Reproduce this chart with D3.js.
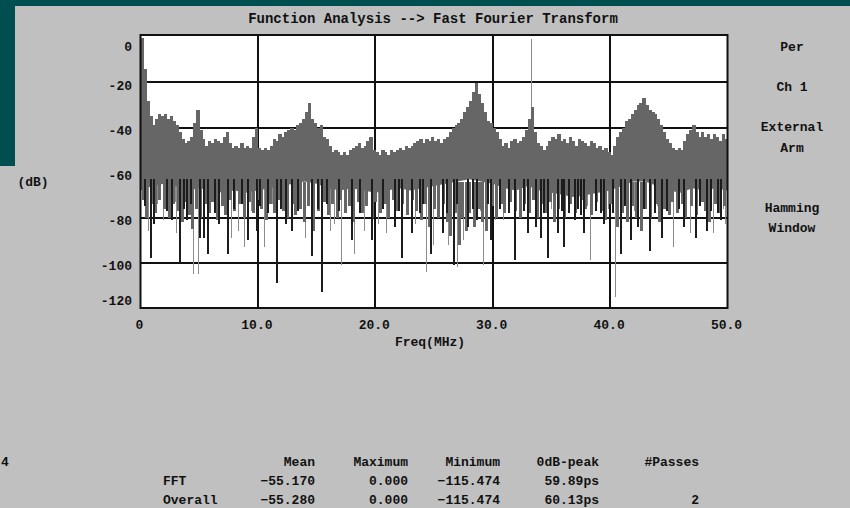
<!DOCTYPE html>
<html>
<head>
<meta charset="utf-8">
<script src="https://cdn.jsdelivr.net/npm/d3@7"></script>
<style>
  html, body { margin: 0; padding: 0; background: #c0c0c0; }
  svg text { font-family: "Liberation Mono", "DejaVu Sans Mono", monospace; font-weight: bold; fill: #111; }
</style>
</head>
<body>
<svg id="chart" width="850" height="508"></svg>
<script>
// spectrum values (dB), one per 0.25 MHz bin, top of the trace
const binStep = 0.25;
const traceTop = [
  0,-14,-28,-35,-39,-36,-34,-35,-34,-36,-35,-37,-39,-42,-45,-47,-46,-44,-38,-32,
  -41,-45,-48,-46,-47,-45,-46,-47,-44,-42,-47,-49,-48,-49,-47,-49,-48,-49,-44,-40,
  -49,-50,-49,-50,-48,-45,-46,-43,-44,-42,-41,-40,-41,-39,-38,-36,-33,-29,-36,-38,
  -40,-39,-44,-45,-48,-51,-50,-51,-52,-51,-52,-50,-49,-48,-47,-49,-48,-46,-44,-50,
  -51,-52,-50,-51,-52,-50,-51,-50,-49,-50,-48,-49,-48,-47,-46,-45,-47,-45,-46,-44,
  -46,-45,-47,-45,-44,-42,-40,-39,-38,-36,-33,-31,-28,-24,-20,-25,-29,-33,-37,-38,
  -40,-42,-45,-48,-47,-49,-46,-45,-47,-46,-44,-41,-36,-31,-42,-47,-48,-50,-48,-46,
  -44,-45,-43,-46,-45,-47,-44,-46,-48,-45,-46,-47,-48,-46,-47,-49,-48,-50,-49,-51,
  -52,-48,-44,-42,-40,-37,-36,-34,-32,-30,-29,-27,-30,-32,-33,-34,-36,-39,-42,-45,
  -47,-49,-50,-49,-50,-46,-43,-41,-39,-42,-44,-42,-44,-43,-45,-43,-44,-46,-43,-45,
  -29
];

// lower edge of the solid band, one per 1 MHz
const bandFreq = d3.range(0, 51);
const bandLow = [
  -68,-66,-65,-66,-68,-67,-68,-69,-68,-69,-68,-67,-66,-65,-64,-65,-67,-68,-67,-68,
  -69,-68,-67,-68,-67,-66,-65,-64,-63,-64,-65,-67,-68,-66,-68,-69,-70,-71,-70,-69,
  -68,-66,-64,-64,-66,-68,-69,-67,-68,-67,-68
];

// ragged fringe of the band below the solid part: [MHz, dB]
const fringe = [
  [0.2,-72],[0.5,-80],[0.9,-74],[1.2,-78],[1.6,-72],[2.0,-76],[2.4,-80],[2.8,-74],[3.2,-77],[3.5,-82],
  [3.8,-73],[4.1,-79],[4.4,-85],[4.7,-76],[5.1,-80],[5.5,-74],[5.8,-78],[6.1,-73],[6.5,-81],[6.9,-75],
  [7.2,-79],[7.6,-72],[8.0,-77],[8.4,-74],[8.8,-80],[9.2,-73],[9.6,-78],[10.0,-72],[10.3,-76],[10.7,-81],
  [11.0,-74],[11.4,-78],[11.8,-72],[12.1,-77],[12.5,-80],[12.9,-74],[13.2,-79],[13.6,-76],[13.9,-82],[14.3,-75],
  [14.7,-86],[15.1,-77],[15.6,-73],[16.0,-79],[16.3,-74],[16.7,-80],[17.0,-72],[17.4,-78],[17.8,-75],[18.1,-82],
  [18.5,-73],[18.9,-78],[19.2,-75],[19.7,-80],[20.0,-73],[20.4,-78],[20.8,-74],[21.1,-80],[21.5,-72],[21.8,-77],
  [22.3,-74],[22.7,-79],[23.1,-72],[23.5,-77],[23.9,-81],[24.2,-74],[24.6,-84],[25.0,-76],[25.3,-80],[25.8,-74],
  [26.1,-82],[26.4,-88],[26.8,-78],[27.1,-92],[27.4,-80],[27.7,-86],[28.0,-78],[28.4,-84],[28.8,-76],[29.1,-82],
  [29.4,-86],[29.9,-75],[30.3,-80],[30.7,-74],[31.0,-78],[31.5,-73],[31.9,-77],[32.3,-80],[32.7,-74],[33.1,-78],
  [33.4,-72],[33.8,-80],[34.1,-74],[34.5,-78],[34.9,-73],[35.2,-82],[35.6,-76],[36.1,-80],[36.6,-74],[37.0,-78],
  [37.5,-72],[37.9,-76],[38.4,-79],[38.8,-73],[39.2,-77],[39.6,-81],[40.0,-74],[40.6,-84],[41.0,-78],[41.4,-82],
  [41.9,-75],[42.2,-80],[42.6,-86],[43.0,-76],[43.4,-80],[43.9,-74],[44.2,-82],[44.6,-76],[45.0,-79],[45.3,-73],
  [45.7,-78],[46.1,-74],[46.4,-80],[46.9,-75],[47.3,-79],[47.8,-73],[48.1,-77],[48.4,-82],[48.9,-74],[49.3,-78],
  [49.7,-75]
];

// downward spikes: [MHz, dB, d = dark / g = grey]
const spikes = [
  [0.64,-86,"g"],[0.78,-98,"d"],[1.06,-83,"d"],[1.9,-81,"g"],[2.6,-81,"d"],[3.05,-87,"g"],
  [3.3,-100,"d"],[3.9,-81,"d"],[4.46,-105,"g"],[4.9,-105,"g"],[5.0,-89,"d"],[5.3,-89,"d"],
  [5.7,-96,"d"],[6.6,-83,"d"],[7.4,-96,"d"],[7.7,-89,"g"],[8.3,-86,"g"],[8.85,-93,"g"],
  [9.1,-90,"d"],[9.8,-86,"d"],[10.5,-93,"g"],[11.5,-109,"d"],[12.3,-83,"d"],[12.8,-86,"d"],
  [14.0,-89,"g"],[14.5,-97,"d"],[15.4,-113,"d"],[16.1,-86,"g"],[16.5,-83,"g"],[17.1,-101,"g"],
  [17.9,-90,"d"],[18.2,-96,"g"],[19.05,-86,"g"],[19.6,-90,"d"],[20.2,-83,"g"],[20.9,-87,"g"],
  [21.6,-84,"d"],[22.2,-98,"d"],[23.0,-87,"d"],[23.4,-83,"g"],[24.3,-104,"g"],[24.7,-96,"d"],
  [24.95,-92,"g"],[25.65,-87,"d"],[26.2,-92,"g"],[26.6,-101,"d"],[27.0,-102,"g"],[27.5,-90,"g"],
  [27.8,-84,"d"],[28.6,-81,"d"],[29.2,-101,"g"],[29.8,-90,"d"],[30.2,-81,"g"],[30.9,-81,"g"],
  [31.8,-99,"d"],[32.9,-87,"d"],[33.6,-84,"d"],[34.0,-89,"d"],[34.6,-98,"d"],[35.45,-87,"d"],
  [36.0,-93,"d"],[36.9,-81,"d"],[37.7,-87,"d"],[38.3,-99,"g"],[39.4,-83,"d"],[40.4,-115.5,"g"],
  [40.85,-96,"d"],[41.7,-90,"d"],[42.3,-84,"d"],[43.3,-95,"d"],[44.3,-89,"d"],[45.4,-93,"g"],
  [46.25,-84,"d"],[46.8,-87,"g"],[47.2,-89,"d"],[48.2,-86,"d"],[48.8,-87,"g"],[49.4,-81,"d"],
  [49.8,-83,"g"],
  [0.3,-75,"d"],[1.4,-74,"g"],[2.2,-77,"d"],[2.9,-73,"g"],[3.6,-76,"d"],[4.2,-74,"d"],
  [5.9,-75,"g"],[6.3,-78,"d"],[7.0,-73,"g"],[7.9,-76,"d"],[8.6,-74,"d"],[9.4,-77,"g"],
  [10.1,-75,"d"],[10.8,-78,"d"],[11.2,-74,"g"],[11.9,-76,"d"],[12.6,-73,"g"],[13.3,-77,"d"],
  [13.8,-75,"g"],[15.0,-76,"d"],[15.8,-74,"d"],[16.8,-77,"d"],[17.5,-75,"g"],[18.6,-78,"d"],
  [19.3,-74,"g"],[20.6,-76,"d"],[21.2,-73,"g"],[21.9,-77,"d"],[22.6,-75,"g"],[23.7,-78,"d"],
  [24.0,-74,"d"],[25.4,-76,"g"],[26.0,-78,"d"],[26.9,-74,"d"],[28.2,-76,"d"],[28.9,-77,"g"],
  [29.5,-74,"d"],[30.5,-76,"d"],[31.3,-78,"d"],[32.2,-75,"g"],[32.6,-77,"d"],[33.9,-74,"g"],
  [34.3,-78,"d"],[35.0,-76,"g"],[35.8,-77,"d"],[36.4,-78,"d"],[37.2,-76,"d"],[37.4,-79,"d"],
  [38.0,-75,"g"],[38.7,-77,"d"],[39.1,-78,"d"],[39.8,-76,"g"],[40.2,-78,"d"],[41.2,-75,"d"],
  [42.0,-77,"g"],[42.8,-76,"d"],[43.7,-78,"d"],[44.0,-75,"g"],[44.8,-77,"d"],[45.8,-76,"d"],
  [46.5,-78,"g"],[47.6,-75,"d"],[48.5,-77,"d"],[49.1,-78,"d"],[49.6,-76,"g"]
];

// narrow tone reaching the top
const tones = [[33.3, -0.5]];

const xTicks = [0, 10, 20, 30, 40, 50];
const xTickLabels = ["0", "10.0", "20.0", "30.0", "40.0", "50.0"];
const yTicks = [0, -20, -40, -60, -80, -100, -120];

const sideLabels = ["Per", "Ch 1", "External", "Arm", "Hamming", "Window"];
const sideY = [51, 91, 131, 152, 212, 232];

const statCols = ["Mean", "Maximum", "Minimum", "0dB-peak", "#Passes"];
const statRows = ["FFT", "Overall"];
const meanVals = [-55.170, -55.280];
const maxVals = [0.000, 0.000];
const minVals = [-115.474, -115.474];
const peakVals = ["59.89ps", "60.13ps"];
const passVals = ["", "2"];

const svg = d3.select("#chart");

// window background
svg.append("rect").attr("width", 850).attr("height", 508).attr("fill", "#c0c0c0");
svg.append("rect").attr("width", 850).attr("height", 6).attr("fill", "#004f50");
svg.append("rect").attr("width", 15).attr("height", 166).attr("fill", "#004f50");

const x = d3.scaleLinear().domain([0, 50]).range([140.5, 727.5]);
const y = d3.scaleLinear().domain([-120, 0]).range([307.5, 37.5]);
const px = f => Math.round(x(f)) + 0.5;

svg.append("clipPath").attr("id", "plotClip")
  .append("rect").attr("x", 141).attr("y", 35).attr("width", 586).attr("height", 273);

svg.append("rect")
  .attr("x", 140.5).attr("y", 35).attr("width", 587).attr("height", 273)
  .attr("fill", "#fff");

// grid sits under the trace
const grid = svg.append("g").attr("stroke", "#111").attr("stroke-width", 2)
  .attr("shape-rendering", "crispEdges");
grid.selectAll("line.h").data(yTicks.slice(1, -1)).join("line")
  .attr("x1", x(0)).attr("x2", x(50))
  .attr("y1", d => Math.round(y(d))).attr("y2", d => Math.round(y(d)));
grid.selectAll("line.v").data(xTicks.slice(1, -1)).join("line")
  .attr("x1", d => Math.round(x(d))).attr("x2", d => Math.round(x(d)))
  .attr("y1", 35).attr("y2", 308);

const plot = svg.append("g").attr("clip-path", "url(#plotClip)")
  .attr("shape-rendering", "crispEdges");

// grey spikes sit under the band
plot.selectAll("line.gs").data(spikes.filter(d => d[2] === "g")).join("line")
  .attr("class", "gs")
  .attr("x1", d => px(d[0])).attr("x2", d => px(d[0]))
  .attr("y1", y(-64)).attr("y2", d => y(d[1]))
  .attr("stroke", "#8c8c8c").attr("stroke-width", 1);

plot.selectAll("line.tone").data(tones).join("line")
  .attr("class", "tone")
  .attr("x1", d => px(d[0])).attr("x2", d => px(d[0]))
  .attr("y1", y(-40)).attr("y2", d => y(d[1]))
  .attr("stroke", "#8c8c8c").attr("stroke-width", 1);

// dense band: upper part from binned tops
const binW = x(binStep) - x(0);
plot.selectAll("rect.bin").data(traceTop).join("rect")
  .attr("class", "bin")
  .attr("x", (d, i) => x(i * binStep))
  .attr("width", binW + 0.4)
  .attr("y", d => y(d))
  .attr("height", d => y(-61) - y(d))
  .attr("fill", "#666");

// lower part of the band
const lowArea = d3.area()
  .x((d, i) => x(bandFreq[i]))
  .y0(d => y(d))
  .y1(y(-59));
plot.append("path").datum(bandLow).attr("d", lowArea).attr("fill", "#666")
  .attr("shape-rendering", "auto");

// ragged fringe under the solid band
plot.selectAll("line.fr").data(fringe).join("line")
  .attr("class", "fr")
  .attr("x1", d => px(d[0])).attr("x2", d => px(d[0]))
  .attr("y1", y(-64)).attr("y2", d => y(d[1]))
  .attr("stroke", "#666").attr("stroke-width", 3);

// dark spikes on top of the band
plot.selectAll("line.ds").data(spikes.filter(d => d[2] === "d")).join("line")
  .attr("class", "ds")
  .attr("x1", d => px(d[0]) + 0.5).attr("x2", d => px(d[0]) + 0.5)
  .attr("y1", y(-63)).attr("y2", d => y(d[1]))
  .attr("stroke", "#1c1c1c").attr("stroke-width", 2);

svg.append("rect")
  .attr("x", 140.5).attr("y", 35).attr("width", 587).attr("height", 273)
  .attr("fill", "none").attr("stroke", "#111").attr("stroke-width", 2);

// axes (labels only, like the instrument display)
const yAxis = svg.append("g").attr("transform", "translate(140,0)")
  .call(d3.axisLeft(y).tickValues(yTicks).tickSize(0).tickPadding(8).tickFormat(d => d));
yAxis.select(".domain").remove();
yAxis.selectAll("text")
  .attr("dy", d => d === 0 ? "1.0em" : d === -120 ? "-0.2em" : "0.55em")
  .style("font-size", "13px");

const xAxis = svg.append("g").attr("transform", "translate(-1.5,308)")
  .call(d3.axisBottom(x).tickValues(xTicks).tickSize(0).tickPadding(12)
    .tickFormat((d, i) => xTickLabels[i]));
xAxis.select(".domain").remove();
xAxis.selectAll("text").style("font-size", "13px");

svg.append("text").attr("x", 433).attr("y", 23).attr("text-anchor", "middle")
  .style("font-size", "14px").text("Function Analysis --> Fast Fourier Transform");
svg.append("text").attr("x", 430).attr("y", 346).attr("text-anchor", "middle")
  .style("font-size", "13px").text("Freq(MHz)");
svg.append("text").attr("x", 33).attr("y", 186).attr("text-anchor", "middle")
  .style("font-size", "13px").text("(dB)");

svg.selectAll("text.side").data(sideLabels).join("text")
  .attr("class", "side")
  .attr("x", 792).attr("y", (d, i) => sideY[i])
  .attr("text-anchor", "middle").style("font-size", "13px")
  .text(d => d);

// statistics table
const colRight = [315, 408, 500, 599, 699];
const table = svg.append("g").style("font-size", "13px");
table.append("text").attr("x", 1).attr("y", 466).text("4");
table.selectAll("text.hd").data(statCols).join("text")
  .attr("class", "hd").attr("x", (d, i) => colRight[i]).attr("y", 466)
  .attr("text-anchor", "end").text(d => d);

const f3 = d3.format(".3f");
statRows.forEach((name, r) => {
  const yy = 485 + r * 19;
  const cells = [f3(meanVals[r]), f3(maxVals[r]), f3(minVals[r]), peakVals[r], passVals[r]];
  table.append("text").attr("x", 163).attr("y", yy).text(name);
  cells.forEach((c, i) => {
    table.append("text").attr("x", colRight[i]).attr("y", yy)
      .attr("text-anchor", "end").text(c);
  });
});
</script>
</body>
</html>
